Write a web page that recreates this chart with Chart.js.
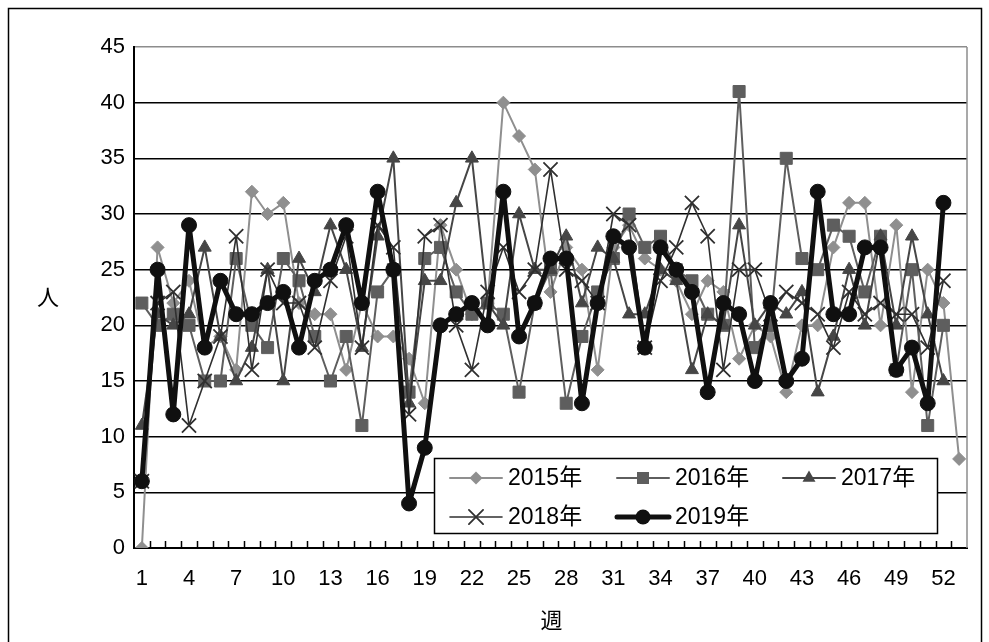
<!DOCTYPE html>
<html>
<head>
<meta charset="utf-8">
<script src="https://cdn.jsdelivr.net/npm/chart.js@4"></script>
<style>
  html, body { margin: 0; padding: 0; background: #fff; }
  #wrap { width: 989px; height: 642px; position: relative; }
  canvas { display: block; }
</style>
</head>
<body>
<div id="wrap"><canvas id="chart" width="989" height="642"></canvas></div>
<script>
// Weekly counts (人) per week number, one array per year
const weeks = ['1','2','3','4','5','6','7','8','9','10','11','12','13','14','15','16','17','18','19','20',
  '21','22','23','24','25','26','27','28','29','30','31','32','33','34','35','36','37','38','39','40',
  '41','42','43','44','45','46','47','48','49','50','51','52','53'];

const y2015 = [0,27,22,24,18,19,16,32,30,31,22,21,21,16,22,19,19,17,13,29,25,21,22,40,37,34,23,27,25,16,
  27,29,26,25,24,21,24,23,17,20,19,14,20,20,27,31,31,20,29,14,25,22,8];
const y2016 = [22,20,21,20,15,15,26,20,18,26,24,19,15,19,11,23,25,14,26,27,23,21,22,21,14,22,25,13,19,23,
  26,30,27,28,25,24,21,20,41,18,20,35,26,25,29,28,23,28,16,25,11,20,null];
const y2017 = [11,21,20,21,27,19,15,18,25,15,26,23,29,25,18,28,35,13,24,24,31,35,22,20,30,25,25,28,22,27,
  26,21,21,25,24,16,21,20,29,20,22,21,23,14,19,25,20,28,20,28,21,15,null];
const y2018 = [6,22,23,11,15,19,28,16,25,22,22,18,24,28,18,29,27,12,28,29,20,16,23,27,23,25,34,25,24,22,
  30,29,18,24,27,31,28,16,25,25,21,23,22,21,18,23,21,22,21,21,18,24,null];
const y2019 = [6,25,12,29,18,24,21,21,22,23,18,24,25,29,22,32,25,4,9,20,21,22,20,32,19,22,26,26,13,22,
  28,27,18,27,25,23,14,22,21,15,22,15,17,32,21,21,27,27,16,18,13,31,null];

const seriesNames = ['2015年','2016年','2017年','2018年','2019年'];
const yMax = 45;
const yStep = 5;
const yTitle = '人';
const xTitle = '週';

const FONT = '"Liberation Sans", "Noto Sans CJK JP", Arial, sans-serif';
const FONT_SIZE = 22;
const LEGEND_FONT_SIZE = 23;

function series(label, data, color, style, radius, width, order, extra) {
  return Object.assign({
    label, data, order,
    borderColor: color, backgroundColor: color,
    borderWidth: width,
    borderJoinStyle: 'round', borderCapStyle: 'round',
    pointStyle: style, pointRadius: radius,
    pointBackgroundColor: color, pointBorderColor: color, pointBorderWidth: 1,
    tension: 0, spanGaps: false
  }, extra || {});
}

const datasets = [
  series(seriesNames[0], y2015, '#8f8f8f', 'rectRot', 6.5, 2, 5),
  series(seriesNames[1], y2016, '#5e5e5e', 'rect', 8.5, 2, 4),
  series(seriesNames[2], y2017, '#464646', 'triangle', 7.5, 2, 3),
  series(seriesNames[3], y2018, '#303030', 'crossRot', 10, 1.6, 2, { pointBorderWidth: 1.8 }),
  series(seriesNames[4], y2019, '#101010', 'circle', 7.5, 5, 1)
];

function drawMarker(ctx, style, x, y, r, color, lw) {
  ctx.save();
  ctx.fillStyle = color; ctx.strokeStyle = color; ctx.lineWidth = lw || 1;
  ctx.beginPath();
  if (style === 'rectRot') {
    ctx.moveTo(x - r, y); ctx.lineTo(x, y - r); ctx.lineTo(x + r, y); ctx.lineTo(x, y + r); ctx.closePath();
    ctx.fill();
  } else if (style === 'rect') {
    const s = r * Math.SQRT1_2;
    ctx.rect(x - s, y - s, 2 * s, 2 * s); ctx.fill();
  } else if (style === 'triangle') {
    let a = 0;
    ctx.moveTo(x + Math.sin(a) * r, y - Math.cos(a) * r);
    a += 2 * Math.PI / 3; ctx.lineTo(x + Math.sin(a) * r, y - Math.cos(a) * r);
    a += 2 * Math.PI / 3; ctx.lineTo(x + Math.sin(a) * r, y - Math.cos(a) * r);
    ctx.closePath(); ctx.fill();
  } else if (style === 'crossRot') {
    const d = r * Math.SQRT1_2;
    ctx.moveTo(x - d, y - d); ctx.lineTo(x + d, y + d);
    ctx.moveTo(x + d, y - d); ctx.lineTo(x - d, y + d);
    ctx.stroke();
  } else {
    ctx.arc(x, y, r, 0, Math.PI * 2); ctx.fill();
  }
  ctx.restore();
}

const decor = {
  id: 'decor',
  beforeDraw(chart) {
    const ctx = chart.ctx;
    ctx.save();
    ctx.fillStyle = '#fff';
    ctx.fillRect(0, 0, chart.width, chart.height);
    ctx.restore();
  },
  beforeDatasetsDraw(chart) {
    const { ctx, chartArea: a, scales: { x } } = chart;
    ctx.save();
    // plot-area frame on the right
    ctx.strokeStyle = '#8c8c8c'; ctx.lineWidth = 1.5;
    ctx.beginPath(); ctx.moveTo(a.right, a.top); ctx.lineTo(a.right, a.bottom); ctx.stroke();
    // inward tick marks between the weeks
    ctx.strokeStyle = '#000'; ctx.lineWidth = 1.5;
    const n = x.ticks.length;
    const step = x.width / n;
    ctx.beginPath();
    for (let i = 1; i < n; i++) {
      const px = Math.round(x.left + i * step) + 0.5;
      ctx.moveTo(px, a.bottom); ctx.lineTo(px, a.bottom - 7);
    }
    ctx.stroke();
    ctx.restore();
  },
  afterDraw(chart) {
    const ctx = chart.ctx;
    const a = chart.chartArea;
    ctx.save();
    // outer frame
    ctx.strokeStyle = '#000'; ctx.lineWidth = 1.5;
    ctx.strokeRect(8.5, 8.5, 973, 700);

    // axis titles
    ctx.fillStyle = '#000';
    ctx.font = FONT_SIZE + 'px ' + FONT;
    ctx.textAlign = 'center'; ctx.textBaseline = 'middle';
    ctx.fillText(yTitle, 48, (a.top + a.bottom) / 2 + 1);
    ctx.fillText(xTitle, (a.left + a.right) / 2 + 1, 622);

    // legend
    const box = { x: 434, y: 458, w: 503, h: 75 };
    ctx.fillStyle = '#fff';
    ctx.fillRect(box.x, box.y, box.w, box.h);
    ctx.strokeStyle = '#000'; ctx.lineWidth = 1.5;
    ctx.strokeRect(box.x + 0.5, box.y + 0.5, box.w, box.h);
    const cols = [450, 617, 783];
    const rows = [478, 517];
    chart.data.datasets.forEach((ds, i) => {
      const x0 = cols[i % 3];
      const y0 = rows[Math.floor(i / 3)];
      ctx.strokeStyle = ds.borderColor; ctx.lineWidth = ds.borderWidth;
      ctx.lineCap = 'round';
      ctx.beginPath(); ctx.moveTo(x0, y0); ctx.lineTo(x0 + 52, y0); ctx.stroke();
      drawMarker(ctx, ds.pointStyle, x0 + 26, y0, ds.pointRadius, ds.borderColor, ds.pointBorderWidth);
      ctx.fillStyle = '#000';
      ctx.textAlign = 'left'; ctx.textBaseline = 'middle';
      ctx.font = LEGEND_FONT_SIZE + 'px ' + FONT;
      ctx.fillText(ds.label, x0 + 58, y0 + 1);
    });
    ctx.restore();
  }
};

new Chart(document.getElementById('chart'), {
  type: 'line',
  data: { labels: weeks, datasets },
  options: {
    responsive: false,
    animation: false,
    devicePixelRatio: 1,
    layout: { padding: { top: 47, right: 22, left: 0, bottom: 0 } },
    plugins: { legend: { display: false }, tooltip: { enabled: false }, title: { display: false } },
    scales: {
      x: {
        type: 'category',
        offset: true,
        grid: { display: true, drawOnChartArea: false, drawTicks: false, offset: true },
        border: { display: true, color: '#000', width: 2 },
        ticks: {
          autoSkip: false, maxRotation: 0, minRotation: 0, padding: 18,
          color: '#000', font: { size: FONT_SIZE, family: FONT },
          callback: (v, i) => (i % 3 === 0 ? weeks[i] : '')
        },
        afterFit: s => { s.height = 94; }
      },
      y: {
        min: 0, max: yMax,
        grid: {
          color: c => (c.tick && c.tick.value === yMax ? '#8c8c8c' : '#000'),
          lineWidth: 1.6, drawTicks: false
        },
        border: { display: true, color: '#000', width: 2 },
        ticks: {
          stepSize: yStep, padding: 9, color: '#000',
          font: { size: FONT_SIZE, family: FONT }
        },
        afterFit: s => { s.width = 134; }
      }
    }
  },
  plugins: [decor]
});
</script>
</body>
</html>
